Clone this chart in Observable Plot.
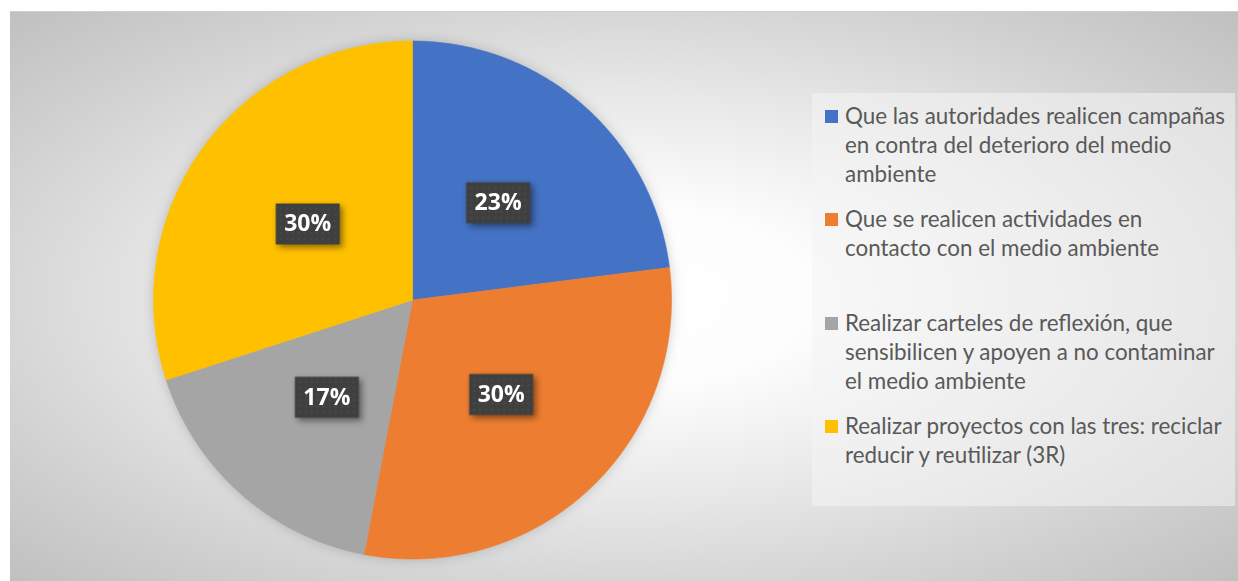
<!DOCTYPE html>
<html>
<head>
<meta charset="utf-8">
<script src="https://cdn.jsdelivr.net/npm/d3@7"></script>
<script src="https://cdn.jsdelivr.net/npm/@observablehq/plot@0.6"></script>
<style>
  html, body { margin: 0; padding: 0; background: #fff; width: 1238px; height: 581px; overflow: hidden; }
  #chart {
    position: absolute; left: 10px; top: 11px; width: 1228px; height: 570px;
    background: radial-gradient(ellipse farthest-corner at 50% 50%, #ffffff 0%, #fdfdfd 22%, #e8e8e8 50%, #d3d3d3 75%, #c0c0c0 100%);
    border-top: 1px solid #cfcfcf; box-sizing: border-box;
  }
  #plot { position: absolute; left: 0; top: 0; }
  #legend {
    position: absolute; left: 802px; top: 81px; width: 423px; height: 413px;
    background: rgba(244,244,244,0.55);
    font-family: Lato, "Open Sans", sans-serif; font-size: 22.4px; color: #595959;
  }
  .item { position: absolute; left: 13px; }
  .sw { position: absolute; left: 0; top: 8px; width: 13px; height: 13px; }
  .txt { position: absolute; left: 20px; top: -1px; line-height: 29px; white-space: nowrap; }
  .lbl { filter: drop-shadow(3px 3px 3px rgba(0,0,0,0.45)); }
  .pie { filter: drop-shadow(0 0 6px rgba(0,0,0,0.18)); }
</style>
</head>
<body>
<div id="chart">
  <div id="plot"></div>
  <div id="legend"></div>
</div>
<script>
const categories = [
  "Que las autoridades realicen campañas en contra del deterioro del medio ambiente",
  "Que se realicen actividades en contacto con el medio ambiente",
  "Realizar carteles de reflexión, que sensibilicen y apoyen a no contaminar el medio ambiente",
  "Realizar proyectos con las tres: reciclar reducir y reutilizar (3R)"
];
const legendLines = [
  ["Que las autoridades realicen campañas", "en contra del deterioro del medio", "ambiente"],
  ["Que se realicen actividades en", "contacto con el medio ambiente"],
  ["Realizar carteles de reflexión, que", "sensibilicen y apoyen a no contaminar", "el medio ambiente"],
  ["Realizar proyectos con las tres: reciclar", "reducir y reutilizar (3R)"]
];
const values = [23, 30, 17, 30];
const labels = ["23%", "30%", "17%", "30%"];
const colors = ["#4472C4", "#ED7D31", "#A5A5A5", "#FFC000"];

const total = d3.sum(values);
let acc = 0;
const slices = values.map((v, i) => {
  const a0 = acc / total * 2 * Math.PI;
  acc += v;
  const a1 = acc / total * 2 * Math.PI;
  return {cat: categories[i], label: labels[i], a0, a1};
});
const pts = slices.flatMap(s => {
  const n = Math.max(2, Math.ceil((s.a1 - s.a0) / (Math.PI / 360)));
  const arr = [{cat: s.cat, x: 0, y: 0}];
  for (let k = 0; k <= n; k++) {
    const a = s.a0 + (s.a1 - s.a0) * k / n;
    arr.push({cat: s.cat, x: Math.sin(a), y: Math.cos(a)});
  }
  arr.push({cat: s.cat, x: 0, y: 0});
  return arr;
});
const labelPts = slices.map(s => {
  const m = (s.a0 + s.a1) / 2;
  return {label: s.label, x: 0.5 * Math.sin(m), y: 0.5 * Math.cos(m)};
});

const box = {draw(context) { context.rect(-32, -20.5, 64, 41); }};

const svg = Plot.plot({
  width: 800, height: 570, margin: 0,
  x: {domain: [-1, 1], range: [143, 661], axis: null},
  y: {domain: [-1, 1], range: [546.5, 28.5], axis: null},
  color: {domain: categories, range: colors},
  style: {background: "transparent", overflow: "visible"},
  marks: [
    Plot.line(pts, {x: "x", y: "y", z: "cat", fill: "cat", stroke: "cat", strokeWidth: 0.6, className: "pie"}),
    Plot.dot(labelPts, {x: "x", y: "y", symbol: box, fill: "url(#dots)", stroke: null, className: "lbl"}),
    Plot.text(labelPts, {x: "x", y: "y", text: "label", fill: "white", fontSize: 23, fontWeight: 700, fontFamily: "'Open Sans', sans-serif", dy: 0})
  ]
});
const defs = d3.select(svg).insert("defs", ":first-child");
const pat = defs.append("pattern").attr("id", "dots").attr("patternUnits", "userSpaceOnUse").attr("width", 6).attr("height", 6);
pat.append("rect").attr("width", 6).attr("height", 6).attr("fill", "#3f3f3f");
pat.append("rect").attr("x", 2).attr("y", 2).attr("width", 2).attr("height", 2).attr("fill", "#4c4c4c");
document.getElementById("plot").appendChild(svg);

const legend = d3.select("#legend");
categories.forEach((c, i) => {
  const it = legend.append("div").attr("class", "item").style("top", (8.5 + i * 103.5) + "px");
  it.append("div").attr("class", "sw").style("background", colors[i]);
  it.append("div").attr("class", "txt").html(legendLines[i].join("<br>"));
});
</script>
</body>
</html>
